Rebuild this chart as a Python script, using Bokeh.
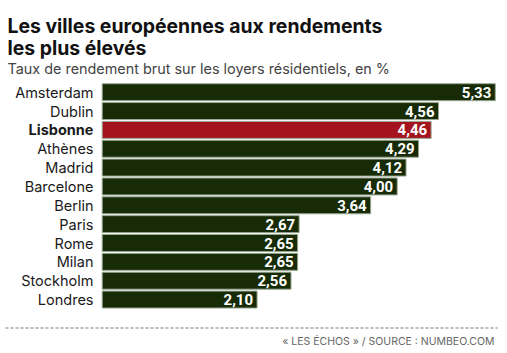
from bokeh.plotting import figure
from bokeh.models import Range1d, ColumnDataSource
from bokeh.core.properties import value
from bokeh.embed import file_html
from bokeh.resources import INLINE

cities = ["Amsterdam", "Dublin", "Lisbonne", "Athènes", "Madrid", "Barcelone",
          "Berlin", "Paris", "Rome", "Milan", "Stockholm", "Londres"]
rates = [5.33, 4.56, 4.46, 4.29, 4.12, 4.00, 3.64, 2.67, 2.65, 2.65, 2.56, 2.10]
labels = ["5,33", "4,56", "4,46", "4,29", "4,12", "4,00", "3,64", "2,67", "2,65", "2,65", "2,56", "2,10"]
highlight = "Lisbonne"

title1 = "Les villes européennes aux rendements"
title2 = "les plus élevés"
subtitle = "Taux de rendement brut sur les loyers résidentiels, en %"
source_txt = "« LES ÉCHOS » / SOURCE : NUMBEO.COM"

W, H = 507, 353
X0 = 101.7      # pixel of value 0
S = 73.75       # pixels per unit
Y0 = 91.7       # pixel centre of first row
P = 18.85       # row pitch in pixels

def px_x(px):
    return (px - X0) / S

def px_y(py):
    return (py - Y0) / P

p = figure(width=W, height=H, output_backend="svg", toolbar_location=None,
           x_range=Range1d(px_x(0), px_x(W)), y_range=Range1d(px_y(H), px_y(0)),
           min_border=0, min_border_left=0, min_border_right=0,
           min_border_top=0, min_border_bottom=0)
p.axis.visible = False
p.grid.visible = False
p.outline_line_color = None
p.background_fill_color = "white"
p.border_fill_color = "white"

idx = list(range(len(cities)))
colors = ["#a3141f" if c == highlight else "#162b06" for c in cities]
weights = ["bold" if c == highlight else "normal" for c in cities]
src = ColumnDataSource(dict(y=idx, v=rates, lab=labels, city=cities, color=colors, fw=weights))

p.hbar(y="y", left=0, right="v", height=0.9, fill_color="color",
       line_color="#9aa893", line_width=1, source=src)

p.text(x="v", y="y", text="lab", x_offset=-4, text_align="right", text_baseline="middle",
       text_color="white", text_font=value("Roboto"), text_font_style="bold",
       text_font_size="15px", source=src)

p.text(x=px_x(93), y="y", text="city", text_align="right", text_baseline="middle",
       text_color="#1a1a1a", text_font=value("Inter"), text_font_style="fw",
       text_font_size="14.5px", source=src)

p.text(x=[px_x(7)], y=[px_y(25)], text=[title1], text_align="left", text_baseline="alphabetic",
       text_color="#111111", text_font=value("Inter"), text_font_style="bold", text_font_size="19.4px")
p.text(x=[px_x(7)], y=[px_y(47)], text=[title2], text_align="left", text_baseline="alphabetic",
       text_color="#111111", text_font=value("Inter"), text_font_style="bold", text_font_size="19.4px")
p.text(x=[px_x(7)], y=[px_y(68)], text=[subtitle], text_align="left", text_baseline="alphabetic",
       text_color="#444444", text_font=value("Inter"), text_font_size="14.4px")

p.segment(x0=[px_x(5)], x1=[px_x(497)], y0=[px_y(327.5)], y1=[px_y(327.5)],
          line_color="#777777", line_width=1, line_dash="3 2")

p.text(x=[px_x(494)], y=[px_y(341)], text=[source_txt], text_align="right", text_baseline="alphabetic",
       text_color="#666666", text_font=value("Inter"), text_font_size="10.5px")

open("out.html", "w").write(file_html(p, INLINE))
